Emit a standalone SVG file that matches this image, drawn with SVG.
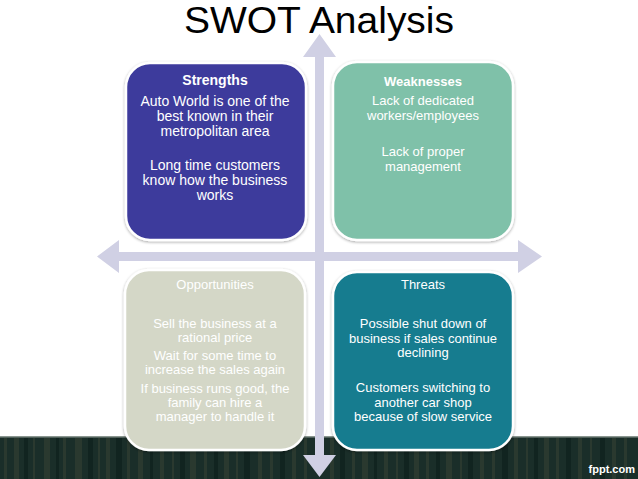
<svg xmlns="http://www.w3.org/2000/svg" width="638" height="479" viewBox="0 0 638 479">
<defs>
<style>
.t{font-family:"Liberation Sans",Arial,sans-serif;fill:#ffffff;text-anchor:middle}
.b{font-weight:bold}
.box{stroke:#ffffff;stroke-width:2.5}
.ax{fill:#d0d0e4}
.st{fill:#3a4436;opacity:0.5}
.sd{fill:#0e211d;opacity:0.7}
</style>
<filter id="sh" x="-10%" y="-10%" width="120%" height="120%">
<feGaussianBlur in="SourceAlpha" stdDeviation="1.5"/>
<feOffset dx="0" dy="1" result="o"/>
<feComponentTransfer><feFuncA type="linear" slope="0.35"/></feComponentTransfer>
<feMerge><feMergeNode/><feMergeNode in="SourceGraphic"/></feMerge>
</filter>
</defs>
<rect width="638" height="479" fill="#ffffff"/>
<g id="band">
<rect x="0" y="437" width="638" height="42" fill="#1a2e29"/>
<rect class="st" x="4" y="438" width="3" height="41"/>
<rect class="st" x="14" y="438" width="5" height="41"/>
<rect class="sd" x="24" y="438" width="4" height="41"/>
<rect class="st" x="33" y="438" width="2" height="41"/>
<rect class="st" x="44" y="438" width="6" height="41"/>
<rect class="sd" x="56" y="438" width="3" height="41"/>
<rect class="st" x="63" y="438" width="3" height="41"/>
<rect class="st" x="75" y="438" width="7" height="41"/>
<rect class="sd" x="88" y="438" width="5" height="41"/>
<rect class="st" x="98" y="438" width="2" height="41"/>
<rect class="st" x="106" y="438" width="4" height="41"/>
<rect class="sd" x="116" y="438" width="6" height="41"/>
<rect class="st" x="127" y="438" width="3" height="41"/>
<rect class="st" x="138" y="438" width="5" height="41"/>
<rect class="sd" x="150" y="438" width="3" height="41"/>
<rect class="st" x="160" y="438" width="4" height="41"/>
<rect class="st" x="172" y="438" width="2" height="41"/>
<rect class="sd" x="180" y="438" width="5" height="41"/>
<rect class="st" x="190" y="438" width="6" height="41"/>
<rect class="st" x="204" y="438" width="3" height="41"/>
<rect class="sd" x="214" y="438" width="4" height="41"/>
<rect class="st" x="224" y="438" width="5" height="41"/>
<rect class="st" x="236" y="438" width="2" height="41"/>
<rect class="sd" x="244" y="438" width="6" height="41"/>
<rect class="st" x="258" y="438" width="4" height="41"/>
<rect class="st" x="270" y="438" width="3" height="41"/>
<rect class="sd" x="280" y="438" width="5" height="41"/>
<rect class="st" x="292" y="438" width="4" height="41"/>
<rect class="st" x="304" y="438" width="3" height="41"/>
<rect class="st" x="330" y="438" width="4" height="41"/>
<rect class="sd" x="340" y="438" width="5" height="41"/>
<rect class="st" x="352" y="438" width="3" height="41"/>
<rect class="st" x="362" y="438" width="6" height="41"/>
<rect class="sd" x="374" y="438" width="3" height="41"/>
<rect class="st" x="384" y="438" width="4" height="41"/>
<rect class="st" x="396" y="438" width="2" height="41"/>
<rect class="sd" x="404" y="438" width="5" height="41"/>
<rect class="st" x="414" y="438" width="5" height="41"/>
<rect class="st" x="426" y="438" width="3" height="41"/>
<rect class="sd" x="436" y="438" width="4" height="41"/>
<rect class="st" x="446" y="438" width="6" height="41"/>
<rect class="st" x="460" y="438" width="2" height="41"/>
<rect class="sd" x="468" y="438" width="5" height="41"/>
<rect class="st" x="480" y="438" width="4" height="41"/>
<rect class="st" x="492" y="438" width="3" height="41"/>
<rect class="sd" x="502" y="438" width="6" height="41"/>
<rect class="st" x="514" y="438" width="4" height="41"/>
<rect class="st" x="526" y="438" width="2" height="41"/>
<rect class="sd" x="534" y="438" width="4" height="41"/>
<rect class="st" x="544" y="438" width="5" height="41"/>
<rect class="st" x="556" y="438" width="3" height="41"/>
<rect class="sd" x="566" y="438" width="5" height="41"/>
<rect class="st" x="578" y="438" width="4" height="41"/>
<rect class="st" x="590" y="438" width="2" height="41"/>
<rect class="sd" x="600" y="438" width="5" height="41"/>
<rect class="st" x="612" y="438" width="4" height="41"/>
<rect class="st" x="624" y="438" width="3" height="41"/>
<rect x="0" y="436" width="638" height="1.5" fill="#8a9690"/>
<text class="t" x="635" y="473" style="text-anchor:end;font-size:11px;font-weight:bold">fppt.com</text>
</g>
<text x="319" y="33" style="font-family:'Liberation Sans',Arial,sans-serif;font-size:37px;fill:#000000;text-anchor:middle" textLength="270" lengthAdjust="spacingAndGlyphs">SWOT Analysis</text>
<g id="axes">
<path class="ax" d="M319.5,34 L336,57 L324,57 L324,252 L518,252 L518,240 L542,256.5 L518,273 L518,261 L324,261 L324,455 L336,455 L319.5,477 L303,455 L315,455 L315,261 L119,261 L119,273 L97,256.5 L119,240 L119,252 L315,252 L315,57 L303,57 Z"/>
</g>
<g id="strengths">
<rect class="box" x="126" y="63" width="180" height="177" rx="24" fill="#3c3a9c" filter="url(#sh)"/>
<text class="t b" x="215" y="85" style="font-size:14px">Strengths</text>
<text class="t" style="font-size:14px"><tspan x="215" y="106">Auto World is one of the</tspan><tspan x="215" y="121">best known in their</tspan><tspan x="215" y="136">metropolitan area</tspan><tspan x="215" y="170">Long time customers</tspan><tspan x="215" y="185">know how the business</tspan><tspan x="215" y="200">works</tspan></text>
</g>
<g id="weaknesses">
<rect class="box" x="333" y="62" width="180" height="178" rx="24" fill="#7fc1a9" filter="url(#sh)"/>
<text class="t b" x="423" y="86" style="font-size:13px">Weaknesses</text>
<text class="t" style="font-size:13px"><tspan x="423" y="105">Lack of dedicated</tspan><tspan x="423" y="119.5">workers/employees</tspan><tspan x="423" y="156">Lack of proper</tspan><tspan x="423" y="170.5">management</tspan></text>
</g>
<g id="opportunities">
<rect class="box" x="125" y="270" width="180" height="180" rx="24" fill="#d4d7c7" filter="url(#sh)"/>
<text class="t" x="215" y="289" style="font-size:13px">Opportunities</text>
<text class="t" style="font-size:13px"><tspan x="215" y="328">Sell the business at a</tspan><tspan x="215" y="342">rational price</tspan><tspan x="215" y="360">Wait for some time to</tspan><tspan x="215" y="374">increase the sales again</tspan><tspan x="215" y="393">If business runs good, the</tspan><tspan x="215" y="407">family can hire a</tspan><tspan x="215" y="421">manager to handle it</tspan></text>
</g>
<g id="threats">
<rect class="box" x="333" y="272" width="180" height="178" rx="24" fill="#137c8f" filter="url(#sh)"/>
<text class="t" x="423" y="289" style="font-size:13px">Threats</text>
<text class="t" style="font-size:13px"><tspan x="423" y="328">Possible shut down of</tspan><tspan x="423" y="342.5">business if sales continue</tspan><tspan x="423" y="357">declining</tspan><tspan x="423" y="392">Customers switching to</tspan><tspan x="423" y="406.5">another car shop</tspan><tspan x="423" y="421">because of slow service</tspan></text>
</g>
</svg>
